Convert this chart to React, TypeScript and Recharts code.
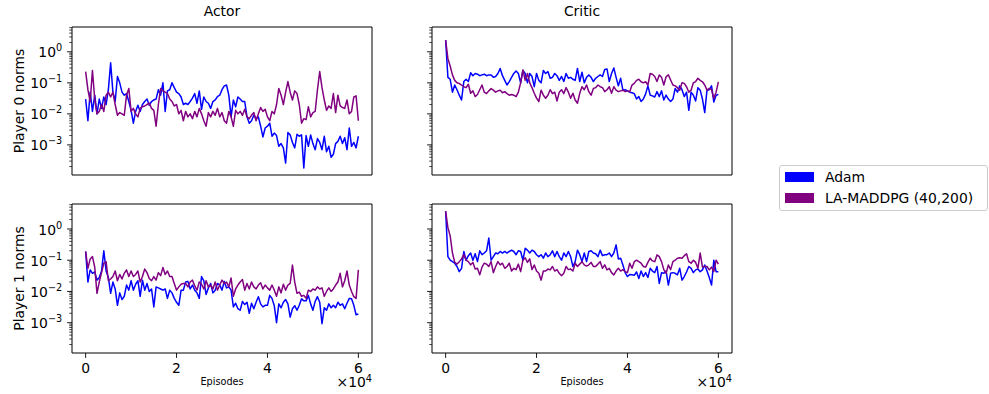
import { LineChart, Line, XAxis, YAxis, Legend, ReferenceLine } from 'recharts';

// x grid: one sample every 500 episodes
const episodes = Array.from({ length: 121 }, (_, i) => i * 500);

const actor0Adam = [
  0.03, 0.006, 0.05, 0.012, 0.04, 0.01, 0.03, 0.015, 0.035, 0.02,
  0.06, 0.44, 0.05, 0.025, 0.16, 0.1, 0.05, 0.04, 0.045, 0.025,
  0.013, 0.005, 0.012, 0.019, 0.012, 0.02, 0.025, 0.03, 0.019, 0.025,
  0.028, 0.03, 0.06, 0.04, 0.1, 0.012, 0.055, 0.06, 0.1, 0.07,
  0.05, 0.045, 0.035, 0.02, 0.022, 0.02, 0.025, 0.032, 0.045, 0.022,
  0.055, 0.014, 0.035, 0.025, 0.022, 0.015, 0.025, 0.028, 0.036, 0.04,
  0.06, 0.08, 0.085, 0.04, 0.008, 0.028, 0.017, 0.035, 0.03, 0.025,
  0.025, 0.008, 0.005, 0.006, 0.009, 0.007, 0.008, 0.004, 0.0018, 0.0035,
  0.004, 0.005, 0.0019, 0.0024, 0.002, 0.0009, 0.0011, 0.0008, 0.00026, 0.0025,
  0.0021, 0.0012, 0.0008, 0.0022, 0.0019, 0.0021, 0.00018, 0.002, 0.0009, 0.0021,
  0.0011, 0.0007, 0.0016, 0.0012, 0.0007, 0.0019, 0.0006, 0.0009, 0.0004, 0.0005,
  0.0011, 0.0013, 0.0019, 0.0011, 0.0017, 0.0007, 0.0035, 0.0009, 0.0012, 0.0008,
  0.0019,
];
const actor0La = [
  0.23, 0.06, 0.025, 0.25, 0.03, 0.01, 0.012, 0.02, 0.012, 0.04,
  0.05, 0.035, 0.05, 0.02, 0.009, 0.011, 0.01, 0.009, 0.04, 0.066,
  0.012, 0.015, 0.01, 0.008, 0.015, 0.017, 0.018, 0.02, 0.022, 0.015,
  0.013, 0.004, 0.02, 0.066, 0.055, 0.05, 0.045, 0.03, 0.025, 0.018,
  0.02, 0.01, 0.013, 0.006, 0.012, 0.008, 0.01, 0.007, 0.012, 0.008,
  0.015, 0.01, 0.006, 0.004, 0.011, 0.008, 0.012, 0.009, 0.015, 0.008,
  0.011, 0.006, 0.005, 0.012, 0.008, 0.004, 0.013, 0.01, 0.012, 0.009,
  0.014, 0.008, 0.007, 0.009, 0.011, 0.006, 0.01, 0.016, 0.012, 0.014,
  0.008, 0.006, 0.012, 0.01, 0.02, 0.066, 0.04, 0.02, 0.05, 0.11,
  0.05, 0.028, 0.055, 0.045, 0.02, 0.005, 0.007, 0.0065, 0.017, 0.008,
  0.011, 0.012, 0.06, 0.23, 0.07, 0.028, 0.013, 0.018, 0.015, 0.045,
  0.011, 0.04, 0.018, 0.016, 0.015, 0.028, 0.01, 0.012, 0.035, 0.038,
  0.006,
];
const critic0Adam = [
  2.4, 0.15, 0.13, 0.05, 0.085, 0.06, 0.04, 0.028, 0.11, 0.13,
  0.11, 0.21, 0.17, 0.2, 0.19, 0.17, 0.18, 0.19, 0.17, 0.18,
  0.18, 0.15, 0.16, 0.2, 0.29, 0.17, 0.12, 0.085, 0.11, 0.15,
  0.2, 0.24, 0.2, 0.1, 0.25, 0.2, 0.1, 0.2, 0.16, 0.075,
  0.2, 0.12, 0.1, 0.25, 0.2, 0.23, 0.14, 0.15, 0.2, 0.17,
  0.12, 0.16, 0.11, 0.2, 0.14, 0.15, 0.13, 0.12, 0.29, 0.11,
  0.22, 0.1, 0.15, 0.18, 0.15, 0.11, 0.14, 0.16, 0.18, 0.16,
  0.27, 0.28, 0.11, 0.2, 0.3, 0.15, 0.08, 0.14, 0.058, 0.06,
  0.055, 0.05, 0.048, 0.045, 0.03, 0.036, 0.025, 0.03, 0.044, 0.08,
  0.04, 0.038, 0.035, 0.052, 0.036, 0.055, 0.028, 0.04, 0.03, 0.025,
  0.03, 0.066, 0.05, 0.08, 0.06, 0.036, 0.05, 0.013, 0.05, 0.04,
  0.026, 0.07, 0.058, 0.03, 0.011, 0.058, 0.06, 0.08, 0.024, 0.04,
  0.042,
];
const critic0La = [
  2.4, 0.6, 0.35, 0.18, 0.12, 0.1, 0.095, 0.085, 0.075, 0.07,
  0.09, 0.046, 0.055, 0.036, 0.042, 0.06, 0.085, 0.05, 0.045, 0.055,
  0.065, 0.058, 0.05, 0.055, 0.058, 0.048, 0.052, 0.045, 0.04, 0.042,
  0.04, 0.036, 0.05, 0.1, 0.26, 0.12, 0.2, 0.1, 0.07, 0.046,
  0.032, 0.025, 0.058, 0.04, 0.032, 0.04, 0.06, 0.045, 0.05, 0.026,
  0.05, 0.06, 0.045, 0.07, 0.05, 0.032, 0.046, 0.028, 0.022, 0.046,
  0.075, 0.06, 0.085, 0.052, 0.04, 0.066, 0.07, 0.085, 0.075, 0.07,
  0.052, 0.06, 0.075, 0.046, 0.075, 0.058, 0.052, 0.055, 0.058, 0.052,
  0.055, 0.052, 0.085, 0.096, 0.12, 0.13, 0.108, 0.1, 0.108, 0.085,
  0.2, 0.19, 0.16, 0.11, 0.18, 0.15, 0.085, 0.157, 0.18, 0.123,
  0.085, 0.08, 0.07, 0.058, 0.1, 0.096, 0.075, 0.05, 0.058, 0.1,
  0.11, 0.14, 0.12, 0.108, 0.085, 0.058, 0.066, 0.06, 0.032, 0.05,
  0.108,
];
const actor1Adam = [
  0.19, 0.02, 0.049, 0.038, 0.042, 0.023, 0.028, 0.045, 0.2, 0.045,
  0.028, 0.0087, 0.02, 0.012, 0.0036, 0.009, 0.0055, 0.007, 0.016, 0.011,
  0.022, 0.011, 0.017, 0.022, 0.007, 0.023, 0.011, 0.018, 0.01, 0.012,
  0.0032, 0.014, 0.013, 0.012, 0.011, 0.012, 0.006, 0.011, 0.009, 0.006,
  0.0045, 0.0036, 0.011, 0.011, 0.02, 0.021, 0.012, 0.016, 0.011, 0.009,
  0.006, 0.03, 0.022, 0.008, 0.013, 0.018, 0.009, 0.011, 0.018, 0.016,
  0.011, 0.021, 0.013, 0.014, 0.011, 0.0032, 0.0042, 0.0028, 0.0025, 0.0048,
  0.0038, 0.0045, 0.002, 0.0042, 0.0028, 0.0045, 0.0068, 0.004, 0.0032, 0.0036,
  0.0036, 0.0075, 0.006, 0.0035, 0.001, 0.004, 0.003, 0.0045, 0.0055, 0.004,
  0.0015, 0.0028, 0.0035, 0.0025, 0.0036, 0.0058, 0.005, 0.005, 0.0075, 0.004,
  0.0025, 0.0048, 0.0068, 0.0045, 0.00093, 0.003, 0.0025, 0.004, 0.003, 0.0036,
  0.003, 0.0045, 0.0036, 0.004, 0.0028, 0.0042, 0.006, 0.0058, 0.0036, 0.0018,
  0.0019,
];
const actor1La = [
  0.19, 0.055, 0.11, 0.13, 0.06, 0.0087, 0.02, 0.04, 0.08, 0.09,
  0.022, 0.025, 0.03, 0.045, 0.022, 0.035, 0.025, 0.038, 0.049, 0.03,
  0.045, 0.03, 0.035, 0.045, 0.02, 0.03, 0.052, 0.04, 0.026, 0.022,
  0.03, 0.023, 0.04, 0.032, 0.058, 0.035, 0.045, 0.03, 0.03, 0.018,
  0.011, 0.014, 0.017, 0.018, 0.018, 0.014, 0.02, 0.023, 0.015, 0.011,
  0.02, 0.017, 0.012, 0.022, 0.014, 0.016, 0.012, 0.02, 0.011, 0.016,
  0.023, 0.018, 0.02, 0.014, 0.027, 0.007, 0.012, 0.016, 0.02, 0.024,
  0.011, 0.018, 0.012, 0.02, 0.014, 0.012, 0.016, 0.019, 0.012, 0.016,
  0.013, 0.011, 0.016, 0.011, 0.007, 0.014, 0.009, 0.017, 0.011, 0.016,
  0.018, 0.07, 0.02, 0.0087, 0.0095, 0.007, 0.0075, 0.006, 0.011, 0.01,
  0.012, 0.011, 0.014, 0.012, 0.013, 0.007, 0.01, 0.013, 0.01, 0.012,
  0.016, 0.02, 0.038, 0.014, 0.022, 0.045, 0.016, 0.01, 0.0068, 0.006,
  0.049,
];
const critic1Adam = [
  3.7, 0.13, 0.1, 0.09, 0.08, 0.063, 0.043, 0.055, 0.19, 0.1,
  0.14, 0.17, 0.1, 0.16, 0.09, 0.2, 0.15, 0.17, 0.2, 0.51,
  0.1, 0.13, 0.17, 0.16, 0.19, 0.17, 0.19, 0.17, 0.19, 0.21,
  0.19, 0.15, 0.2, 0.19, 0.1, 0.24, 0.21, 0.17, 0.21, 0.19,
  0.15, 0.13, 0.15, 0.116, 0.17, 0.13, 0.15, 0.2, 0.13, 0.19,
  0.13, 0.1, 0.17, 0.13, 0.19, 0.13, 0.063, 0.09, 0.21, 0.15,
  0.09, 0.17, 0.09, 0.19, 0.2, 0.17, 0.16, 0.13, 0.21, 0.14,
  0.15, 0.15, 0.17, 0.13, 0.17, 0.31, 0.11, 0.116, 0.07, 0.04,
  0.03, 0.035, 0.034, 0.033, 0.042, 0.026, 0.045, 0.03, 0.04, 0.028,
  0.055, 0.045, 0.04, 0.063, 0.018, 0.04, 0.038, 0.045, 0.016, 0.038,
  0.04, 0.038, 0.034, 0.055, 0.023, 0.03, 0.042, 0.063, 0.055, 0.04,
  0.049, 0.052, 0.043, 0.049, 0.07, 0.045, 0.028, 0.016, 0.1, 0.043,
  0.043,
];
const critic1La = [
  3.7, 1.1, 0.6, 0.17, 0.085, 0.075, 0.09, 0.11, 0.15, 0.1,
  0.09, 0.071, 0.085, 0.052, 0.055, 0.034, 0.06, 0.08, 0.075, 0.063,
  0.09, 0.04, 0.063, 0.09, 0.071, 0.08, 0.055, 0.063, 0.08, 0.045,
  0.055, 0.05, 0.075, 0.043, 0.1, 0.12, 0.085, 0.11, 0.05, 0.07,
  0.045, 0.038, 0.023, 0.045, 0.045, 0.052, 0.049, 0.063, 0.045, 0.05,
  0.038, 0.032, 0.038, 0.063, 0.05, 0.052, 0.045, 0.08, 0.063, 0.075,
  0.09, 0.071, 0.065, 0.071, 0.085, 0.063, 0.063, 0.075, 0.09, 0.055,
  0.071, 0.049, 0.055, 0.04, 0.034, 0.045, 0.055, 0.045, 0.05, 0.043,
  0.04, 0.08, 0.055, 0.09, 0.1, 0.09, 0.08, 0.063, 0.06, 0.085,
  0.116, 0.095, 0.09, 0.148, 0.13, 0.09, 0.05, 0.038, 0.07, 0.05,
  0.09, 0.1, 0.116, 0.12, 0.116, 0.14, 0.16, 0.09, 0.08, 0.1,
  0.085, 0.055, 0.17, 0.06, 0.063, 0.063, 0.049, 0.06, 0.043, 0.1,
  0.075,
];

const seriesNames = ['Adam', 'LA-MADDPG (40,200)'];
const seriesColors = ['#0000ff', '#800080'];
const xTicks = [0, 20000, 40000, 60000];

const FONT = '"DejaVu Sans", sans-serif';
const X_DOMAIN = [-3000, 63000];
const Y_DOMAIN = [1.07e-4, 6.3];

// major decades plus 2..9 minor ticks, like matplotlib's log locator
const yTicks: number[] = [];
for (const d of [1e-4, 1e-3, 1e-2, 1e-1, 1]) {
  for (let m = 1; m <= 9; m++) {
    const v = m * d;
    if (v >= Y_DOMAIN[0] && v <= Y_DOMAIN[1]) yTicks.push(v);
  }
}

const isDecade = (v: number) => Math.abs(Math.log10(v) - Math.round(Math.log10(v))) < 1e-6;

function LogTick(props: any) {
  const { x, y, payload, showLabel } = props;
  const v = payload.value;
  const major = isDecade(v);
  const len = major ? 4.9 : 2.8;
  const exp = Math.round(Math.log10(v));
  return (
    <g>
      <line x1={x - len} x2={x} y1={y} y2={y} stroke="#000" strokeWidth={major ? 0.9 : 0.7} />
      {major && showLabel && (
        <text x={x - 9.8} y={y} dy="0.4em" textAnchor="end" fontFamily={FONT} fontSize={13.9} fill="#000">
          10
          <tspan dy="-0.62em" fontSize={9.7}>{exp < 0 ? `\u2212${-exp}` : exp}</tspan>
        </text>
      )}
    </g>
  );
}

const legendContent = (props: any) => (
  <div
    style={{
      boxSizing: 'border-box', width: 209, height: 46, border: '1px solid #cccccc', borderRadius: 3,
      background: '#fff', padding: '0 0 0 5px', fontFamily: FONT, fontSize: 13.9, color: '#000',
    }}
  >
    {props.payload.map((p: any) => (
      <div key={p.value} style={{ display: 'flex', alignItems: 'center', height: 21.5 }}>
        <span style={{ display: 'inline-block', width: 29, height: 10, background: p.color, marginRight: 11 }} />
        <span>{p.value}</span>
      </div>
    ))}
  </div>
);

type PanelProps = {
  adam: number[];
  la: number[];
  left: number;
  top: number;
  width: number;
  axisWidth: number;
  plotHeight: number;
  title?: string;
  yLabel?: string;
  bottomRow?: boolean;
  legend?: boolean;
};

function Panel({ adam, la, left, top, width, axisWidth, plotHeight, title, yLabel, bottomRow, legend }: PanelProps) {
  const rows = episodes.map((episode, i) => ({ episode, adam: adam[i], la: la[i] }));
  const axisStroke = { stroke: '#000', strokeWidth: 1 };
  return (
    <div style={{ position: 'absolute', left, top }}>
      <LineChart
        width={width}
        height={27 + plotHeight + 41}
        data={rows}
        margin={{ top: 27, right: width - axisWidth - 300, bottom: 0, left: 0 }}
      >
        <XAxis
          dataKey="episode"
          type="number"
          domain={X_DOMAIN}
          allowDataOverflow
          ticks={xTicks}
          interval={0}
          height={41}
          tickSize={4.9}
          tickMargin={5}
          axisLine={axisStroke}
          tickLine={{ stroke: '#000', strokeWidth: 0.9 }}
          tick={bottomRow ? { fill: '#000', fontSize: 13.9, fontFamily: FONT } : false}
          tickFormatter={(v: number) => String(v / 10000)}
          label={
            bottomRow
              ? (p: any) => {
                  const vb = p.viewBox;
                  return (
                    <g fontFamily={FONT} fill="#000">
                      <text x={vb.x + vb.width / 2} y={vb.y + 32} textAnchor="middle" fontSize={9.7}>
                        Episodes
                      </text>
                      <text x={vb.x + vb.width} y={vb.y + 34} textAnchor="end" fontSize={13.9}>
                        ×10
                        <tspan dy="-0.5em" fontSize={9.7}>4</tspan>
                      </text>
                    </g>
                  );
                }
              : undefined
          }
        />
        <YAxis
          scale="log"
          type="number"
          domain={Y_DOMAIN}
          allowDataOverflow
          ticks={yTicks}
          interval={0}
          width={axisWidth}
          tickSize={0}
          tickMargin={0}
          tickLine={false}
          axisLine={axisStroke}
          tick={(p: any) => <LogTick {...p} showLabel={!!yLabel} />}
          label={
            yLabel
              ? (p: any) => {
                  const vb = p.viewBox;
                  const cx = vb.x + 24;
                  const cy = vb.y + vb.height / 2;
                  return (
                    <text x={cx} y={cy} transform={`rotate(-90 ${cx} ${cy})`} textAnchor="middle" fontFamily={FONT} fontSize={13.9} fill="#000">
                      {yLabel}
                    </text>
                  );
                }
              : undefined
          }
        />
        {/* top and right spines */}
        <ReferenceLine
          y={Y_DOMAIN[1]}
          ifOverflow="visible"
          stroke="#000"
          strokeWidth={1}
          label={
            title
              ? (p: any) => {
                  const vb = p.viewBox;
                  return (
                    <text x={vb.x + vb.width / 2} y={vb.y - 11.5} textAnchor="middle" fontFamily={FONT} fontSize={13.9} fill="#000">
                      {title}
                    </text>
                  );
                }
              : undefined
          }
        />
        <ReferenceLine x={X_DOMAIN[1]} ifOverflow="visible" stroke="#000" strokeWidth={1} />
        <Line dataKey="adam" name={seriesNames[0]} stroke={seriesColors[0]} strokeWidth={1.5} dot={false} strokeLinejoin="round" legendType="rect" isAnimationActive={false} />
        <Line dataKey="la" name={seriesNames[1]} stroke={seriesColors[1]} strokeWidth={1.5} dot={false} strokeLinejoin="round" legendType="rect" isAnimationActive={false} />
        {legend && (
          <Legend
            layout="horizontal"
            align="center"
            verticalAlign="middle"
            content={legendContent}
            wrapperStyle={{ left: 397, top: 165, width: 209, height: 46 }}
          />
        )}
      </LineChart>
    </div>
  );
}

export default function App() {
  return (
    <div style={{ position: 'absolute', left: 0, top: 0, width: 989, height: 394, background: '#fff', fontFamily: FONT }}>
      <Panel adam={actor0Adam} la={actor0La} left={0} top={0} width={382} axisWidth={72} plotHeight={148} title="Actor" yLabel="Player 0 norms" />
      <Panel adam={critic0Adam} la={critic0La} left={382} top={0} width={607} axisWidth={50} plotHeight={148} title="Critic" legend />
      <Panel adam={actor1Adam} la={actor1La} left={0} top={177} width={382} axisWidth={72} plotHeight={149} yLabel="Player 1 norms" bottomRow />
      <Panel adam={critic1Adam} la={critic1La} left={382} top={177} width={360} axisWidth={50} plotHeight={149} bottomRow />
    </div>
  );
}
